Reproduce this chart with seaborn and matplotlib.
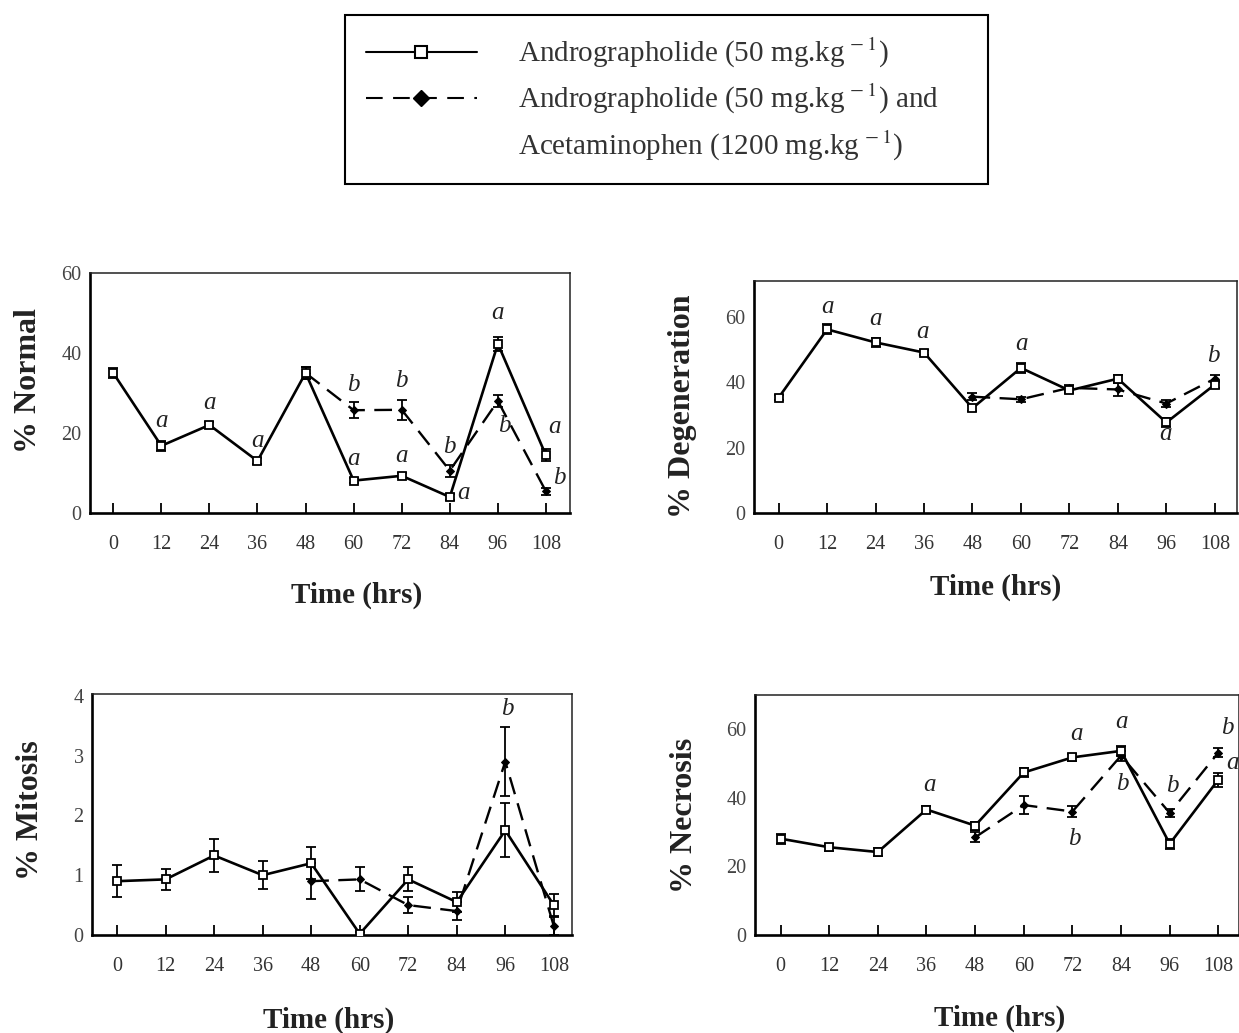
import numpy as np
import pandas as pd
import matplotlib
matplotlib.use("Agg")
import matplotlib.pyplot as plt
from matplotlib.lines import Line2D
import seaborn as sns

# ---------------- data ----------------
time_all = [0, 12, 24, 36, 48, 60, 72, 84, 96, 108]
time_combo = [48, 60, 72, 84, 96, 108]

normal_andro = [35, 16.8, 22, 13, 35, 8.1, 9.3, 4.0, 42.3, 14.4]
normal_andro_err = [1.2, 1.2, 0.8, 0.8, 1.5, 0.6, 0.6, 0.8, 1.8, 1.5]
normal_combo = [35, 25.7, 25.8, 10.6, 28, 5.4]
normal_combo_err = [1.5, 2.0, 2.5, 1.5, 1.5, 0.8]

degen_andro = [35.3, 56.2, 52.2, 49.1, 32.1, 44.4, 37.5, 41.1, 27.7, 39.3]
degen_andro_err = [0.8, 1.5, 1.5, 0.8, 1.0, 1.5, 0.8, 1.0, 1.5, 1.0]
degen_combo = [35.6, 34.8, 38.3, 37.8, 33.5, 41.1]
degen_combo_err = [1.0, 0.8, 1.0, 2.0, 1.2, 1.0]

mitosis_andro = [0.9, 0.93, 1.33, 1.0, 1.2, 0.02, 0.93, 0.55, 1.75, 0.5]
mitosis_andro_err = [0.27, 0.18, 0.27, 0.23, 0.27, 0.03, 0.2, 0.17, 0.45, 0.18]
mitosis_combo = [0.9, 0.93, 0.5, 0.4, 2.9, 0.15]
mitosis_combo_err = [0.3, 0.2, 0.14, 0.15, 0.58, 0.15]

necro_andro = [28.1, 25.6, 24.2, 36.6, 31.9, 47.4, 51.8, 53.7, 26.6, 45.3]
necro_andro_err = [1.5, 1.0, 1.2, 1.0, 1.2, 1.2, 1.0, 1.5, 1.5, 2.0]
necro_combo = [28.5, 37.9, 36.0, 52.3, 35.6, 53.2]
necro_combo_err = [1.5, 2.5, 1.5, 1.5, 1.2, 1.2]

# significance letters: (x, y, letter)
normal_letters = [(12, 23.1, "a"), (24, 27.4, "a"), (36, 18, "a"), (60, 31.9, "b"), (60, 13.4, "a"),
                  (72, 32.9, "b"), (72, 14.3, "a"), (84, 16.4, "b"), (87.3, 5, "a"), (96, 49.9, "a"),
                  (97.5, 21.8, "b"), (110.2, 21.4, "a"), (111.3, 8.8, "b")]
degen_letters = [(12.2, 63, "a"), (24, 59.5, "a"), (35.7, 55.5, "a"), (60.1, 51.6, "a"),
                 (107.7, 47.9, "b"), (95.8, 24.2, "a")]
mitosis_letters = [(96.5, 3.78, "b")]
necro_letters = [(36.8, 43.8, "a"), (73, 58.6, "a"), (72.5, 28.1, "b"), (84.1, 62, "a"),
                 (84.3, 44, "b"), (96.6, 43.6, "b"), (110.3, 60.5, "b"), (111.5, 50.3, "a")]

xticks = time_all
legend_labels = ["Andrographolide (50 mg.kg$^{\\,-1}$)",
                 "Andrographolide (50 mg.kg$^{\\,-1}$) and",
                 "Acetaminophen (1200 mg.kg$^{\\,-1}$)"]

# ---------------- style ----------------
sns.set_theme(style="white")
plt.rcParams["font.family"] = ["Liberation Serif", "DejaVu Serif"]
plt.rcParams["mathtext.fontset"] = "stix"

W, H = 1239, 1033
fig = plt.figure(figsize=(W / 100, H / 100), dpi=100)


def px_axes(left, right, top, bottom):
    return fig.add_axes([left / W, 1 - bottom / H, (right - left) / W, (bottom - top) / H])


panels = [
    dict(box=(90, 570, 273, 513), xlim=(-5.8, 114), ylim=(0, 60), yticks=[0, 20, 40, 60],
         a=normal_andro, ae=normal_andro_err, c=normal_combo, ce=normal_combo_err,
         letters=normal_letters, ylabel="% Normal", ylab=(-0.129, 0.55), xlab=(0.556, -0.342)),
    dict(box=(754, 1237, 281, 513), xlim=(-6.1, 113.5), ylim=(0, 71), yticks=[0, 20, 40, 60],
         a=degen_andro, ae=degen_andro_err, c=degen_combo, ce=degen_combo_err,
         letters=degen_letters, ylabel="% Degeneration", ylab=(-0.147, 0.46), xlab=(0.501, -0.319)),
    dict(box=(92, 572, 694, 935), xlim=(-6.2, 112.5), ylim=(0, 4.03), yticks=[0, 1, 2, 3, 4],
         a=mitosis_andro, ae=mitosis_andro_err, c=mitosis_combo, ce=mitosis_combo_err,
         letters=mitosis_letters, ylabel="% Mitosis", ylab=(-0.129, 0.52), xlab=(0.492, -0.353)),
    dict(box=(755, 1239, 695, 935), xlim=(-6.3, 113.1), ylim=(0, 70), yticks=[0, 20, 40, 60],
         a=necro_andro, ae=necro_andro_err, c=necro_combo, ce=necro_combo_err,
         letters=necro_letters, ylabel="% Necrosis", ylab=(-0.145, 0.5), xlab=(0.506, -0.346)),
]

for p in panels:
    ax = px_axes(*p["box"])
    df_a = pd.DataFrame({"time": time_all, "value": p["a"]})
    df_c = pd.DataFrame({"time": time_combo, "value": p["c"]})

    ax.errorbar(time_all, p["a"], yerr=p["ae"], fmt="none", ecolor="black",
                elinewidth=1.3, capsize=3.5, capthick=1.3, zorder=3)
    ax.errorbar(time_combo, p["c"], yerr=p["ce"], fmt="none", ecolor="black",
                elinewidth=1.3, capsize=3.5, capthick=1.3, zorder=3)

    sns.lineplot(data=df_c, x="time", y="value", ax=ax, color="black", linewidth=1.7,
                 marker="D", markersize=4.5, markerfacecolor="black", markeredgecolor="black",
                 linestyle="--", legend=False, zorder=4)
    ax.lines[-1].set_dashes([7.5, 4])
    sns.lineplot(data=df_a, x="time", y="value", ax=ax, color="black", linewidth=1.9,
                 marker="s", markersize=6, markerfacecolor="white", markeredgecolor="black",
                 markeredgewidth=1.3, legend=False, zorder=5)

    for (x, y, s) in p["letters"]:
        ax.text(x, y, s, fontsize=18, fontstyle="italic", ha="center", va="center",
                color="#222222")

    ax.set_xlim(*p["xlim"])
    ax.set_ylim(*p["ylim"])
    ax.set_xticks(xticks)
    ax.set_xticklabels([str(t) for t in xticks])
    ax.set_yticks(p["yticks"])
    ax.set_yticklabels([str(t) for t in p["yticks"]])
    ax.tick_params(axis="x", direction="in", length=7, width=1.3, pad=16,
                   labelsize=14.5, labelcolor="#333333", color="black", bottom=True)
    ax.tick_params(axis="y", length=0, pad=6, labelsize=14.5, labelcolor="#444444")
    for side in ["left", "bottom"]:
        ax.spines[side].set_linewidth(1.9)
        ax.spines[side].set_color("black")
    for side in ["top", "right"]:
        ax.spines[side].set_linewidth(1.1)
        ax.spines[side].set_color("#222222")

    ax.set_ylabel(p["ylabel"], fontsize=23, fontweight="bold", color="#222222")
    ax.yaxis.set_label_coords(*p["ylab"])
    ax.yaxis.label.set_va("center")
    ax.set_xlabel("Time (hrs)", fontsize=21, fontweight="bold", color="#222222")
    ax.xaxis.set_label_coords(*p["xlab"])
    ax.xaxis.label.set_va("center")

# ---------------- legend ----------------
h1 = Line2D([], [], color="black", linewidth=1.5, marker="s", markersize=8,
            markerfacecolor="white", markeredgecolor="black", markeredgewidth=1.5)
h2 = Line2D([], [], color="black", linewidth=1.5, linestyle="--", dashes=[8, 5],
            marker="D", markersize=8, markerfacecolor="black", markeredgecolor="black")
h3 = Line2D([], [], color="none")
leg = fig.legend([h1, h2, h3], legend_labels, loc="upper left",
                 bbox_to_anchor=(345 / W, 1 - 183 / H, (988 - 345) / W, (183 - 15) / H),
                 mode="expand", fontsize=21, handlelength=3.8, handletextpad=1.4,
                 labelspacing=0.42, borderpad=0.72, borderaxespad=0, frameon=True,
                 fancybox=False, edgecolor="black", framealpha=1)
leg.get_frame().set_linewidth(1.5)
for t in leg.get_texts():
    t.set_color("#333333")

fig.savefig("out.png", dpi=100)
